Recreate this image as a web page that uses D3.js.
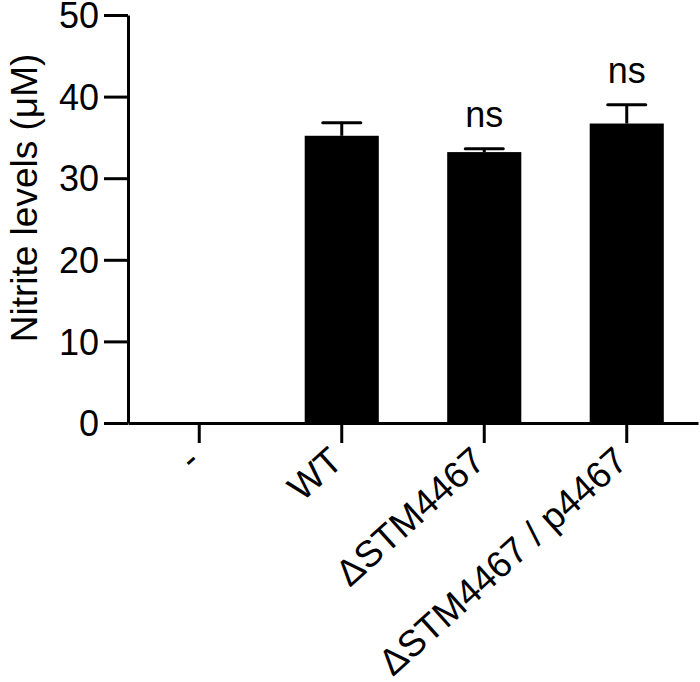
<html>
<head>
<script src="https://d3js.org/d3.v7.min.js"></script>
<style>
  body { margin: 0; background: #fff; }
  text { font-family: "Liberation Sans", Arial, sans-serif; fill: #000; }
  .axis path, .axis line { stroke: #000; stroke-width: 3; }
</style>
</head>
<body>
<script>
// data
const groups = ['-', 'WT', '\u0394STM4467', '\u0394STM4467 / p4467'];
const means = [0, 35.2, 33.2, 36.7];
const errors = [0, 1.6, 0.4, 2.3];
const marks = ['', '', 'ns', 'ns'];
const yTicks = [0, 10, 20, 30, 40, 50];

const svg = d3.select('body').append('svg')
  .attr('width', 700)
  .attr('height', 682);

const plotLeft = 128, plotRight = 698, plotTop = 15, plotBottom = 423;
const fs = 36;

let x = d3.scaleBand()
  .domain(groups)
  .range([plotLeft, plotRight])
  .paddingInner(0.48)
  .paddingOuter(0.24);

let y = d3.scaleLinear()
  .domain([0, 50])
  .range([plotBottom, plotTop]);

// bars
svg.append('g').selectAll('rect')
  .data(groups)
  .enter().append('rect')
  .attr('x', d => x(d))
  .attr('width', x.bandwidth())
  .attr('y', (d, i) => y(means[i]))
  .attr('height', (d, i) => y(0) - y(means[i]))
  .attr('fill', '#000');

// error bars (upper only)
const eb = svg.append('g').attr('stroke', '#000').attr('stroke-width', 3);
groups.forEach((g, i) => {
  if (!errors[i]) return;
  const cx = x(g) + x.bandwidth() / 2;
  eb.append('line')
    .attr('x1', cx).attr('x2', cx)
    .attr('y1', y(means[i])).attr('y2', y(means[i] + errors[i]));
  eb.append('line')
    .attr('x1', cx - 19).attr('x2', cx + 19)
    .attr('y1', y(means[i] + errors[i])).attr('y2', y(means[i] + errors[i]))
    .attr('stroke-linecap', 'round');
});

// significance labels
svg.append('g').selectAll('text')
  .data(groups)
  .enter().append('text')
  .attr('x', d => x(d) + x.bandwidth() / 2)
  .attr('y', (d, i) => y(means[i] + errors[i]) - 22)
  .attr('text-anchor', 'middle')
  .attr('font-size', fs)
  .text((d, i) => marks[i]);

// y axis
let leftAxis = d3.axisLeft(y).tickValues(yTicks).tickSize(24).tickSizeOuter(0).tickPadding(5);
svg.append('g')
  .attr('class', 'axis')
  .attr('transform', `translate(${plotLeft},0)`)
  .call(leftAxis)
  .selectAll('text')
  .attr('font-size', fs)
  .attr('dy', '0.35em');

// x axis
let bottomAxis = d3.axisBottom(x).tickSize(20).tickSizeOuter(0);
const xg = svg.append('g')
  .attr('class', 'axis')
  .attr('transform', `translate(0,${plotBottom})`)
  .call(bottomAxis);
xg.selectAll('text')
  .attr('font-size', 37)
  .attr('text-anchor', 'end')
  .attr('dy', null)
  .attr('y', 0)
  .attr('transform', 'translate(3,41) rotate(-42)');

// y label
svg.append('text')
  .attr('transform', `translate(37,198) rotate(-90)`)
  .attr('text-anchor', 'middle')
  .attr('font-size', 37)
  .text('Nitrite levels (\u03bcM)');
</script>
</body>
</html>
